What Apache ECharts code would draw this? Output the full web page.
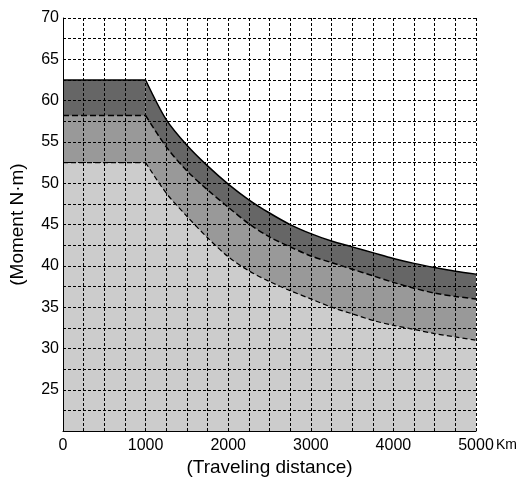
<!DOCTYPE html>
<html>
<head>
<meta charset="utf-8">
<script src="https://cdn.jsdelivr.net/npm/echarts@6/dist/echarts.min.js"></script>
<style>
  html, body { margin: 0; padding: 0; background: #fff; }
  #chart { width: 518px; height: 482px; }
</style>
</head>
<body>
<div id="chart"></div>
<script>
// distance (km)
var distance = [0, 1000, 1250, 1500, 1750, 2000, 2250, 2500, 2750, 3000,
                3250, 3500, 3750, 4000, 4250, 4500, 4750, 5000];
// upper limit (solid line)
var upperMoment = [62.5, 62.5, 57.7, 54.6, 52.1, 49.9, 48.0, 46.4, 45.0, 43.9,
                   43.0, 42.3, 41.6, 40.9, 40.3, 39.8, 39.35, 39.0];
// middle limit (dashed)
var middleMoment = [58.2, 58.2, 54.4, 51.5, 49.2, 47.1, 45.1, 43.5, 42.3, 41.2,
                    40.4, 39.6, 38.8, 38.0, 37.3, 36.7, 36.3, 36.0];
// lower limit (dashed)
var lowerMoment = [52.5, 52.5, 48.8, 46.0, 43.4, 41.1, 39.4, 38.1, 37.0, 36.0,
                   35.0, 34.2, 33.4, 32.8, 32.3, 31.8, 31.4, 31.0];

var xTicks = [0, 1000, 2000, 3000, 4000, 5000];
var yTicks = [25, 30, 35, 40, 45, 50, 55, 60, 65, 70];

// index where the flat part ends and the curve starts
var knee = 1;

function pairs(vals, from, to) {
    var out = [];
    for (var i = from; i <= to; i++) out.push([distance[i], vals[i]]);
    return out;
}

var font = 'Liberation Sans, Arial, sans-serif';
var gridDash = { color: '#000', width: 1, type: [3, 2] };

var chart = echarts.init(document.getElementById('chart'));

// each band = flat piece + smooth piece, both filled down to the axis
function band(name, vals, fill, lineType, lineWidth) {
    var common = {
        type: 'line',
        symbol: 'none',
        lineStyle: { color: '#000', width: lineWidth, type: lineType },
        areaStyle: { color: fill, opacity: 1, origin: 'start' }
    };
    return [
        Object.assign({ name: name + '-flat', data: pairs(vals, 0, knee), smooth: false }, common),
        Object.assign({ name: name, data: pairs(vals, knee, distance.length - 1), smooth: 0.3 }, common)
    ];
}

chart.setOption({
    animation: false,
    grid: { left: 60, right: 42, top: 18, bottom: 49 },
    xAxis: {
        type: 'value',
        min: 0, max: 5000, interval: 1000,
        zlevel: 1,
        name: '(Traveling distance)',
        nameLocation: 'middle',
        nameGap: 20,
        nameTextStyle: { fontFamily: font, fontSize: 19, color: '#000' },
        axisLine: { show: true, lineStyle: { color: '#000', width: 1 } },
        axisTick: { show: false },
        axisLabel: {
            fontFamily: font, fontSize: 16, color: '#000', margin: 6,
            formatter: function (v) { return xTicks.indexOf(v) >= 0 ? String(v) : ''; }
        },
        splitLine: { show: true, lineStyle: gridDash },
        minorTick: { show: false, splitNumber: 4 },
        minorSplitLine: { show: true, lineStyle: gridDash }
    },
    yAxis: {
        type: 'value',
        min: 20, max: 70, interval: 5,
        zlevel: 1,
        name: '(Moment N·m)',
        nameLocation: 'middle',
        nameGap: 36,
        nameTextStyle: { fontFamily: font, fontSize: 19, color: '#000' },
        axisLine: { show: true, lineStyle: { color: '#000', width: 1 } },
        axisTick: { show: false },
        axisLabel: {
            fontFamily: font, fontSize: 16, color: '#000', margin: 4,
            formatter: function (v) { return yTicks.indexOf(v) >= 0 ? String(v) : ''; }
        },
        splitLine: { show: true, lineStyle: gridDash },
        minorTick: { show: false, splitNumber: 2 },
        minorSplitLine: { show: true, lineStyle: gridDash }
    },
    graphic: [{
        type: 'text',
        left: 496, top: 438,
        style: { text: 'Km', font: '14px ' + font, fill: '#000' }
    }],
    series: [].concat(
        band('upper', upperMoment, '#666666', 'solid', 1.5),
        band('middle', middleMoment, '#999999', [6, 3], 1.5),
        band('lower', lowerMoment, '#cccccc', [5, 3], 1.2)
    )
});
</script>
</body>
</html>
